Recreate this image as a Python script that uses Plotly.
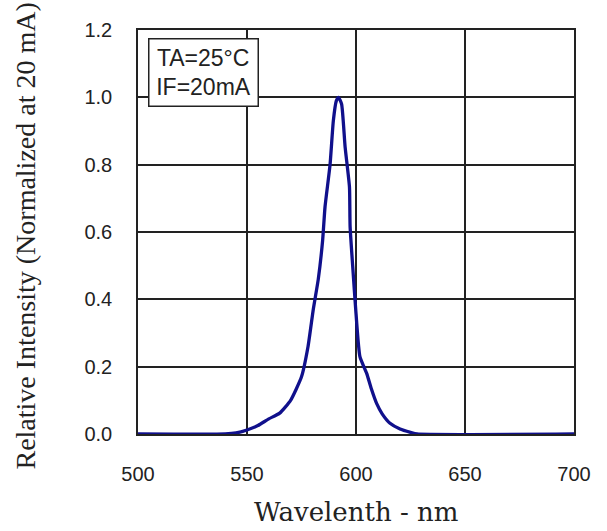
import plotly.graph_objects as go

wavelength = [500, 540, 545, 550, 555, 560, 565, 570, 575, 578, 580.4, 582.7, 584.7,
              585.8, 588.1, 589.6, 591, 592, 593.4, 595, 597, 597.3, 598.5, 600,
              601.8, 604.9, 607, 609.5, 612, 615.6, 620.2, 625, 628, 700]
intensity = [0, 0, 0.003, 0.012, 0.025, 0.045, 0.062, 0.10, 0.17, 0.26, 0.37, 0.46, 0.576,
             0.675, 0.80, 0.93, 0.99, 1.0, 0.98, 0.853, 0.734, 0.616, 0.497, 0.358,
             0.23, 0.18, 0.135, 0.09, 0.06, 0.032, 0.015, 0.005, 0, 0]

x_ticks = [500, 550, 600, 650, 700]
y_ticks = [0.0, 0.2, 0.4, 0.6, 0.8, 1.0, 1.2]
y_tick_labels = ["0.0", "0.2", "0.4", "0.6", "0.8", "1.0", "1.2"]

fig = go.Figure()
fig.add_trace(go.Scatter(x=wavelength, y=intensity, mode="lines",
                         line=dict(color="#10108c", width=3.3, shape="spline", smoothing=0.5),
                         showlegend=False))

tick_font = dict(family="Liberation Sans, Arial", size=20, color="#222")
fig.update_layout(
    width=607, height=531,
    margin=dict(l=138, r=33, t=30, b=97),
    paper_bgcolor="white", plot_bgcolor="white",
    xaxis=dict(range=[500, 700], tickvals=x_ticks, showgrid=True, gridcolor="#222",
               gridwidth=1.5, showline=True, linecolor="#222", linewidth=1.5, mirror=True,
               zeroline=False, tickfont=tick_font, ticks="", ticklabelstandoff=21),
    yaxis=dict(range=[0, 1.2], tickvals=y_ticks, ticktext=y_tick_labels, showgrid=True,
               gridcolor="#222", gridwidth=1.5, showline=True, linecolor="#222",
               linewidth=1.5, mirror=True, zeroline=False, tickfont=tick_font, ticks="",
               ticklabelstandoff=20),
    annotations=[
        dict(text="TA=25°C<br>IF=20mA", xref="paper", yref="paper", x=0.023, y=0.98,
             xanchor="left", yanchor="top", showarrow=False, align="center",
             width=104, height=62, borderpad=2,
             font=dict(family="Liberation Sans, Arial", size=23, color="#222"),
             bordercolor="#222", borderwidth=1.5, bgcolor="white"),
        dict(text="Wavelenth - nm", xref="paper", yref="paper", x=0.501, y=-0.235,
             xanchor="center", yanchor="bottom", showarrow=False,
             font=dict(family="DejaVu Serif", size=26, color="#222")),
        dict(text="Relative Intensity (Normalized at 20 mA)", xref="paper", yref="paper",
             x=-0.259, y=0.489, xanchor="center", yanchor="middle", textangle=-90,
             showarrow=False,
             font=dict(family="Liberation Serif, Times New Roman", size=28, color="#222")),
    ],
)

fig.write_html("out.html")
